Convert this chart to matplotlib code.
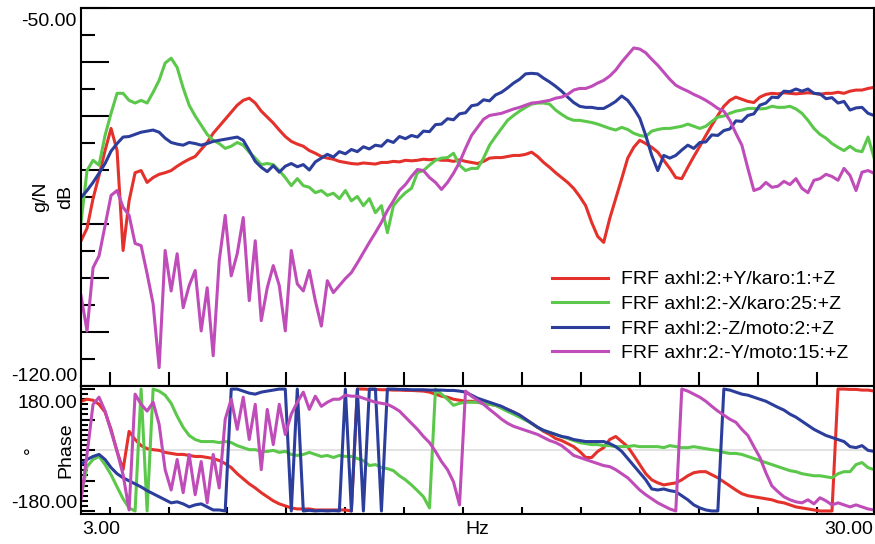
import numpy as np
import matplotlib
matplotlib.use("Agg")
import matplotlib.pyplot as plt
from matplotlib.ticker import FixedLocator, MultipleLocator, NullFormatter

plt.rcParams['font.family'] = ['Liberation Sans', 'DejaVu Sans']

# Frequency range of the measurement (Hz), log spaced points
f_min, f_max = 3.0, 30.0

labels = ["FRF axhl:2:+Y/karo:1:+Z", "FRF axhl:2:-X/karo:25:+Z",
          "FRF axhl:2:-Z/moto:2:+Z", "FRF axhr:2:-Y/moto:15:+Z"]
colors = ['#e4312b', '#5cc84b', '#2c3e9c', '#bf4cb8']

# Magnitude, dB re 1 g/N
red_db = [-93.1, -90.8, -85.3, -81.0, -76.4, -72.3, -76.4, -94.9, -85.7, -80.5,
          -80.1, -82.3, -81.4, -80.8, -80.5, -80.1, -79.3, -78.6, -78.0, -77.5,
          -76.2, -74.9, -73.2, -71.9, -70.6, -69.3, -68.0, -67.1, -66.7, -67.6,
          -69.1, -70.2, -71.3, -72.6, -73.8, -74.7, -75.2, -75.6, -76.4, -76.9,
          -77.5, -77.8, -78.0, -78.4, -78.6, -78.8, -78.9, -78.7, -78.8, -78.9,
          -78.6, -78.6, -78.4, -78.5, -78.2, -78.3, -78.2, -78.0, -78.1, -78.0,
          -78.2, -78.2, -78.4, -78.1, -78.4, -78.6, -78.8, -78.4, -77.8, -77.7,
          -77.7, -77.5, -77.3, -77.3, -77.1, -76.7, -77.5, -78.6, -79.5, -80.5,
          -81.4, -82.3, -83.4, -84.9, -86.6, -89.7, -92.3, -93.4, -89.0, -85.3,
          -81.6, -77.8, -75.8, -74.5, -75.1, -75.8, -76.7, -78.2, -79.7, -81.4,
          -81.6, -79.5, -77.5, -75.6, -73.6, -71.7, -69.9, -68.2, -67.1, -66.5,
          -66.9, -67.3, -67.5, -66.5, -66.0, -65.8, -65.9, -65.7, -65.8, -65.9,
          -65.8, -65.7, -65.8, -66.0, -65.8, -65.8, -65.6, -65.8, -65.4, -65.2,
          -65.2, -64.9, -64.7]
green_db = [-89.7, -80.1, -78.2, -79.1, -73.6, -69.5, -65.8, -65.8, -67.1, -67.6,
            -67.1, -67.6, -65.6, -63.4, -60.2, -59.3, -61.0, -64.8, -68.0, -70.0,
            -71.7, -73.4, -74.5, -75.1, -76.0, -75.6, -74.9, -75.4, -76.7, -77.8,
            -79.0, -78.8, -79.0, -80.1, -81.4, -82.9, -81.6, -82.9, -83.2, -84.2,
            -83.8, -84.7, -84.3, -85.3, -83.8, -85.7, -84.9, -86.6, -85.3, -87.9,
            -86.6, -91.6, -86.6, -85.3, -84.2, -83.4, -80.5, -80.1, -79.1, -78.2,
            -77.8, -77.7, -76.9, -79.1, -80.1, -79.7, -79.7, -77.8, -75.4, -73.8,
            -72.3, -70.8, -69.9, -69.1, -68.4, -67.8, -67.6, -67.6, -67.8, -68.9,
            -69.7, -70.4, -70.8, -70.8, -71.0, -71.2, -71.5, -71.9, -72.3, -72.6,
            -72.1, -72.5, -73.2, -73.6, -73.8, -72.8, -72.5, -72.3, -72.3, -72.1,
            -71.9, -71.5, -71.9, -72.3, -71.9, -71.0, -70.2, -70.0, -69.5, -69.1,
            -68.9, -68.6, -68.6, -68.7, -68.6, -68.2, -68.4, -68.4, -68.2, -68.7,
            -69.5, -70.8, -72.3, -73.4, -74.1, -75.1, -75.8, -76.4, -75.6, -76.4,
            -76.6, -73.9, -77.7]
blue_db = [-85.1, -83.8, -82.3, -80.6, -78.8, -76.5, -75.1, -73.9, -73.8, -73.4,
           -73.0, -72.8, -72.6, -73.0, -74.1, -74.9, -75.2, -75.4, -74.9, -75.1,
           -75.4, -75.1, -74.7, -74.5, -74.3, -74.1, -73.9, -74.5, -76.4, -78.4,
           -79.5, -80.3, -79.2, -80.4, -79.3, -78.8, -79.4, -79.0, -80.0, -78.5,
           -77.8, -77.1, -77.6, -76.6, -77.0, -76.2, -76.6, -75.7, -76.1, -75.4,
           -75.6, -74.5, -74.9, -73.8, -74.2, -73.6, -73.9, -72.8, -72.9, -71.6,
           -71.5, -70.5, -70.7, -69.6, -69.4, -68.1, -67.9, -67.0, -67.2, -66.1,
           -65.6, -64.8, -63.9, -63.2, -62.2, -62.1, -62.2, -63.0, -63.7, -64.5,
           -65.4, -66.5, -67.5, -68.2, -68.4, -68.4, -68.6, -68.6, -68.0, -67.3,
           -66.3, -67.1, -68.6, -70.4, -73.6, -77.3, -80.1, -77.3, -77.8, -77.3,
           -76.3, -75.4, -76.0, -74.9, -74.8, -73.5, -73.6, -72.7, -72.4, -70.9,
           -71.0, -69.9, -69.6, -68.0, -67.6, -66.5, -66.6, -65.4, -65.5, -65.0,
           -65.4, -65.0, -65.8, -65.9, -66.8, -66.6, -67.6, -67.3, -68.9, -68.5,
           -68.4, -69.5, -69.9]
magenta_db = [-103.3, -109.8, -98.1, -95.9, -90.3, -84.7, -83.8, -86.9, -88.4, -93.6,
              -94.0, -99.2, -104.8, -116.6, -94.9, -102.4, -95.5, -105.5, -101.4, -98.6,
              -109.8, -101.8, -114.4, -96.8, -88.4, -99.6, -95.5, -88.8, -104.2, -93.1,
              -107.9, -101.8, -97.7, -101.4, -109.8, -94.9, -101.1, -102.4, -98.6, -104.2,
              -108.9, -100.5, -102.7, -101.4, -100.1, -99.0, -97.2, -95.3, -93.4, -91.6,
              -89.7, -87.5, -85.7, -83.8, -82.7, -81.2, -79.9, -80.1, -81.4, -82.3,
              -83.6, -82.3, -80.6, -78.6, -76.0, -73.6, -72.1, -70.6, -69.9, -69.7,
              -69.5, -69.1, -68.7, -68.4, -68.0, -67.6, -67.5, -67.3, -67.1, -66.7,
              -66.5, -66.0, -65.2, -64.9, -64.9, -64.5, -63.9, -63.4, -62.6, -61.5,
              -60.0, -58.7, -57.4, -57.6, -58.3, -59.5, -60.6, -61.9, -63.2, -64.3,
              -64.9, -65.4, -66.0, -66.5, -67.1, -67.8, -68.6, -69.1, -70.8, -73.2,
              -75.4, -79.7, -83.8, -83.4, -82.3, -83.2, -83.0, -82.1, -82.7, -81.6,
              -83.4, -84.2, -81.9, -81.6, -80.8, -81.2, -81.9, -79.7, -81.0, -83.8,
              -80.4, -80.1, -80.6]

# Phase, degrees (wrapped to +/-180)
red_ph = [144, 150, 147, 135, 112, 61, -4, -58, 55, 31,
          13, 4, 1, -1, -7, -10, -13, -13, -16, -19,
          -19, -22, -25, -31, -40, -52, -70, -85, -100, -112,
          -126, -138, -150, -159, -165, -171, -174, -174, -174, -177,
          -177, -177, -177, -177, -177, -180, 180, 180, 179, 179,
          178, 178, 177, 177, 176, 176, 175, 174, 171, 165,
          159, 156, 150, 147, 144, 144, 141, 138, 135, 132,
          126, 120, 112, 103, 91, 79, 67, 55, 46, 34,
          28, 19, 10, -4, -22, -22, -4, 7, 31, 40,
          25, 10, -16, -43, -70, -88, -97, -103, -100, -97,
          -88, -76, -67, -64, -64, -73, -82, -94, -106, -118,
          -129, -135, -138, -141, -144, -147, -153, -156, -162, -168,
          -171, -174, -177, -180, -180, -180, 180, 180, 179, 179,
          177, 177, 174]
green_ph = [-138, -49, -28, -19, -43, -73, -109, -144, -171, -180,
            180, -180, 180, 174, 162, 138, 100, 67, 43, 31,
            25, 25, 25, 22, 25, 22, 13, 7, 1, 1,
            -4, -4, -1, -7, -4, -13, -16, -13, -7, -13,
            -19, -16, -22, -16, -19, -19, -25, -31, -46, -43,
            -52, -55, -61, -76, -88, -103, -120, -138, -171, 180,
            165, 150, 132, 138, 141, 141, 141, 138, 135, 132,
            123, 114, 106, 97, 88, 79, 67, 58, 52, 46,
            40, 34, 28, 22, 19, 16, 16, 13, 13, 10,
            10, 10, 13, 10, 10, 10, 10, 7, 13, 10,
            7, 7, 10, 7, 4, 1, -1, -7, -10, -10,
            -13, -19, -25, -31, -37, -43, -49, -55, -61, -64,
            -70, -73, -76, -76, -79, -82, -70, -64, -64, -43,
            -37, -52, -58]
blue_ph = [-43, -28, -19, -13, -28, -52, -70, -82, -91, -100,
           -109, -120, -129, -138, -147, -156, -153, -159, -168, -162,
           -159, -168, -177, -177, -180, 180, 180, 174, 168, 165,
           171, 174, 177, 180, 180, -180, 180, -180, -178, -180,
           -179, -180, -179, -180, 180, -180, 180, -180, 180, 180,
           -180, 180, 180, 179, 179, 178, 178, 178, 177, 177,
           177, 176, 176, 174, 171, 162, 153, 147, 141, 135,
           129, 120, 112, 103, 91, 79, 67, 58, 52, 46,
           40, 37, 31, 28, 25, 25, 25, 25, 19, 10,
           -4, -25, -46, -67, -88, -115, -118, -115, -120, -123,
           -135, -147, -162, -171, -177, -180, -180, 180, 177, 171,
           165, 162, 156, 150, 144, 135, 126, 118, 106, 97,
           85, 73, 61, 52, 43, 37, 31, 25, 10, 7,
           13, -1, -4]
magenta_ph = [-147, -13, 135, 156, 115, 55, -4, -73, -177, 165,
              135, 115, 141, 76, -58, -118, -28, -126, -13, -132,
              -34, -156, -13, -112, 91, 150, 61, 156, 31, 135,
              -58, 120, 16, 135, 46, 106, 141, 171, 120, 159,
              129, 141, 150, 150, 162, 159, 159, 153, 147, 141,
              138, 135, 126, 115, 97, 79, 61, 40, 22, -4,
              -34, -58, -94, -162, 174, 159, 147, 135, 120, 106,
              91, 79, 70, 64, 58, 52, 46, 37, 28, 22,
              13, -1, -16, -22, -28, -34, -40, -46, -49, -58,
              -70, -82, -100, -118, -132, -144, -156, -165, -174, -180,
              180, 174, 165, 156, 144, 129, 115, 103, 91, 82,
              61, 43, 10, -22, -67, -106, -123, -138, -147, -153,
              -156, -147, -159, -141, -150, -162, -156, -162, -168, -162,
              -168, -174, -177]

magnitudes = [red_db, green_db, blue_db, magenta_db]
phases = [red_ph, green_ph, blue_ph, magenta_ph]

fig = plt.figure(figsize=(8.75, 5.44), dpi=100)
ax_mag = fig.add_axes([0.0926, 0.2904, 0.9063, 0.6949])
ax_ph = fig.add_axes([0.0926, 0.0551, 0.9063, 0.2353], sharex=ax_mag)

for db, ph, col, lab in zip(magnitudes, phases, colors, labels):
    f = np.geomspace(f_min, f_max, len(db))
    ax_mag.plot(f, db, color=col, lw=2.2, label=lab)
    f = np.geomspace(f_min, f_max, len(ph))
    ax_ph.plot(f, ph, color=col, lw=2.2)

ax_ph.axhline(0, color='#dddddd', lw=1.2, zorder=0)

ax_mag.set_xscale('log')
ax_mag.set_xlim(f_min, f_max)
ax_mag.set_ylim(-120, -50)
ax_ph.set_ylim(-189, 189)

# log-uniform frequency ticks, no labels (end values are written separately)
xt = np.geomspace(3.26, 25.4, 13)
for ax in (ax_mag, ax_ph):
    ax.xaxis.set_major_locator(FixedLocator([]))
    ax.xaxis.set_minor_locator(FixedLocator(xt))
    ax.xaxis.set_major_formatter(NullFormatter())
    ax.xaxis.set_minor_formatter(NullFormatter())
    ax.yaxis.set_major_formatter(NullFormatter())
    ax.yaxis.set_minor_formatter(NullFormatter())
    for s in ax.spines.values():
        s.set_linewidth(1.5)
    ax.tick_params(which='both', direction='in', top=False, right=False, width=1.5, color='black')

ax_mag.tick_params(axis='x', which='minor', length=10)
ax_ph.tick_params(axis='x', which='minor', length=5)
ax_mag.yaxis.set_major_locator(MultipleLocator(10))
ax_mag.yaxis.set_minor_locator(MultipleLocator(5))
ax_mag.tick_params(axis='y', which='major', length=20)
ax_mag.tick_params(axis='y', which='minor', length=10)
ax_ph.yaxis.set_major_locator(MultipleLocator(90))
ax_ph.yaxis.set_minor_locator(MultipleLocator(15))
ax_ph.tick_params(axis='y', which='major', length=10)
ax_ph.tick_params(axis='y', which='minor', length=5)

fs = 14
fig.text(0.088, 0.960, "-50.00", ha='right', va='center', fontsize=fs)
fig.text(0.088, 0.307, "-120.00", ha='right', va='center', fontsize=fs)
fig.text(0.088, 0.259, "180.00", ha='right', va='center', fontsize=fs)
fig.text(0.088, 0.075, "-180.00", ha='right', va='center', fontsize=fs)
fig.text(0.094, 0.026, "3.00", ha='left', va='center', fontsize=fs)
fig.text(0.998, 0.026, "30.00", ha='right', va='center', fontsize=fs)
fig.text(0.546, 0.026, "Hz", ha='center', va='center', fontsize=fs)
fig.text(0.046, 0.638, "g/N", ha='center', va='center', rotation=90, fontsize=fs)
fig.text(0.075, 0.638, "dB", ha='center', va='center', rotation=90, fontsize=fs)
fig.text(0.075, 0.172, "Phase", ha='center', va='center', rotation=90, fontsize=fs)
fig.text(0.037, 0.172, "°", ha='center', va='center', rotation=90, fontsize=fs)

ax_mag.legend(loc='upper left', bbox_to_anchor=(0.594, 0.305), frameon=False,
              fontsize=fs, borderpad=0, borderaxespad=0, handlelength=2.9,
              handletextpad=0.67, labelspacing=0.36)

fig.savefig("out.png", dpi=100)
